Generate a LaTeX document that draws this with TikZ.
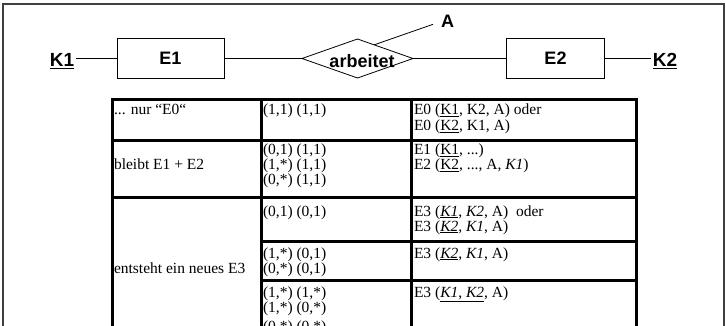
\documentclass[tikz,border=0pt]{standalone}
\usepackage{fontspec}
\setmainfont{Liberation Serif}
\setsansfont{Liberation Sans}
\usetikzlibrary{shapes.geometric,calc}

\begin{document}
\begin{tikzpicture}[x=1pt,y=-1pt,
  every node/.style={inner sep=0pt, outer sep=0pt},
  erlabel/.style={font=\sffamily\bfseries\fontsize{18}{21}\selectfont},
  entity/.style={erlabel, draw, line width=0.8pt, minimum height=40pt},
  relation/.style={draw, diamond, aspect=3, line width=0.8pt,
                   minimum width=111pt, minimum height=39pt},
  keylabel/.style={font=\sffamily\bfseries\fontsize{19}{22}\selectfont, inner sep=2pt, anchor=base},
  conn/.style={line width=0.8pt},
  cell/.style={font=\fontsize{15.5}{15}\selectfont, anchor=base west, align=left},
  grid/.style={line width=3pt, line cap=rect},
  frame/.style={draw=black!75, line width=1.3pt}
]
\useasboundingbox (0,0) rectangle (726,326);
\clip (0,0) rectangle (726,326);
\fill[white] (0,0) rectangle (726,326);

% outer frame
\draw[frame] (3,4) rectangle (724,345);

% ER diagram
\node[keylabel] (K1) at (62,67) {\underline{K1}};
\node[entity, minimum width=107pt] (E1) at (170.5,58.5) {E1};
\node[relation] (R) at (357.5,58.5) {};
\node[erlabel, anchor=base] (Rt) at (362,67.5) {arbeitet};
\node[entity, minimum width=98pt] (E2) at (555.5,58.5) {E2};
\node[keylabel] (K2) at (665,67) {\underline{K2}};
\node[erlabel, anchor=base] (A) at (447.5,28) {A};

\draw[conn] (E1.west -| K1.east) -- (E1.west);
\draw[conn] (E1) -- (R);
\draw[conn] (R) -- (E2);
\draw[conn] (E2.east) -- (E2.east -| K2.west);
\draw[conn] ([shift={(-8,2.5)}]A.west) -- ($(R.north)!0.3!(R.east)$);

% table grid
\draw[grid] (112,100) -- (636,100);
\draw[grid] (112,141) -- (636,141);
\draw[grid] (112,198) -- (636,198);
\draw[grid] (261,241) -- (636,241);
\draw[grid] (261,280) -- (636,280);
\draw[grid] (112,100) -- (112,345);
\draw[grid] (261,100) -- (261,345);
\draw[grid] (411,100) -- (411,345);
\draw[grid] (636,100) -- (636,345);

% first column (multi-line cells are placed by their last baseline)
\node[cell] (c11) at (114,115) {... nur “E0“};
\node[cell] (c21) at (114,170) {bleibt E1 + E2};
\node[cell] (c31) at (114,273) {entsteht ein neues E3};

% second column
\node[cell] (c12) at (263,115) {(1,1) (1,1)};
\node[cell] (c22) at (263,185) {(0,1) (1,1)\\(1,*) (1,1)\\(0,*) (1,1)};
\node[cell] (c32) at (263,216) {(0,1) (0,1)};
\node[cell] (c42) at (263,273) {(1,*) (0,1)\\(0,*) (0,1)};
\node[cell] (c52) at (263,312) {(1,*) (1,*)\\(1,*) (0,*)};
\node[cell] (c62) at (263,331) {(0,*) (0,*)};

% third column
\node[cell, font=\fontsize{15.5}{16}\selectfont] (c13) at (414,131) {E0 (\underline{K1}, K2, A) oder\\E0 (\underline{K2}, K1, A)};
\node[cell] (c23) at (414,170) {E1 (\underline{K1}, ...)\\E2 (\underline{K2}, ..., A, \textit{K1})};
\node[cell] (c33) at (414,231) {E3 (\underline{\textit{K1}}, \textit{K2}, A)\ \ oder\\E3 (\underline{\textit{K2}}, \textit{K1}, A)};
\node[cell] (c43) at (414,258) {E3 (\underline{\textit{K2}}, \textit{K1}, A)};
\node[cell] (c53) at (414,297) {E3 (\underline{\textit{K1}, \textit{K2}}, A)};
\end{tikzpicture}
\end{document}
